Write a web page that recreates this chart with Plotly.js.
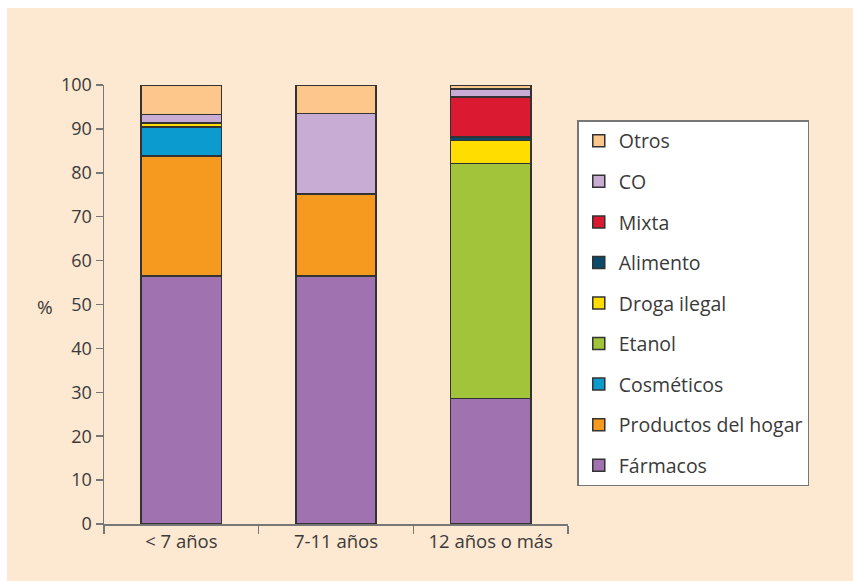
<!DOCTYPE html>
<html>
<head>
<meta charset="utf-8">
<script src="https://cdn.plot.ly/plotly-3.0.1.min.js"></script>
<style>
html,body{margin:0;padding:0;background:#ffffff;width:853px;height:581px;overflow:hidden;}
#chart{position:absolute;left:7px;top:8px;width:846px;height:573px;}
</style>
</head>
<body>
<div id="chart"></div>
<script>
var categories = ["< 7 años", "7-11 años", "12 años o más"];
var seriesNames = ["Fármacos", "Productos del hogar", "Cosméticos", "Etanol", "Droga ilegal", "Alimento", "Mixta", "CO", "Otros"];
var farmacos   = [56.5, 56.5, 28.6];
var hogar      = [27.3, 18.7, 0];
var cosmeticos = [6.6, 0, 0];
var etanol     = [0, 0, 53.5];
var drogaIlegal= [0.9, 0, 5.3];
var alimento   = [0, 0, 0.8];
var mixta      = [0, 0, 9.1];
var co         = [2.0, 18.3, 1.8];
var otros      = [6.7, 6.5, 0.9];
var seriesValues = [farmacos, hogar, cosmeticos, etanol, drogaIlegal, alimento, mixta, co, otros];
var colors = ["#a172b0", "#f5991f", "#0b9bcf", "#a1c43b", "#ffdd00", "#0b4a6b", "#d91a30", "#c8acd4", "#fdc68a"];
var yTicks = [0,10,20,30,40,50,60,70,80,90,100];

var bg = "#fde8d1";
var txt = "#3a3a3a";
var fontFam = "'Open Sans', Lato, sans-serif";

var traces = seriesNames.map(function(name, i){
  return {
    type: "bar",
    name: name,
    x: categories,
    y: seriesValues[i],
    legendgroup: "g" + i,
    legendrank: 1000 - i,
    marker: {color: colors[i], line: {color: "#333333", width: 1.5}},
    width: 0.52,
    hoverinfo: "name+y"
  };
});

var layout = {
  barmode: "stack",
  paper_bgcolor: bg,
  plot_bgcolor: bg,
  width: 846,
  height: 573,
  margin: {l: 97, r: 285, t: 77, b: 57, pad: 0},
  font: {family: fontFam, size: 18, color: txt},
  xaxis: {
    type: "category",
    showline: true, linecolor: "#777777", linewidth: 1.5,
    ticks: "outside", tickson: "boundaries", ticklen: 8, tickcolor: "#777777", tickwidth: 1.5,
    showgrid: false, zeroline: false,
    tickfont: {family: fontFam, size: 18.5, color: txt}
  },
  yaxis: {
    range: [0, 100],
    tickvals: yTicks,
    ticktext: yTicks.map(String),
    showline: true, linecolor: "#777777", linewidth: 1.5,
    ticks: "outside", ticklen: 7, tickcolor: "#777777", tickwidth: 1.5,
    showgrid: false, zeroline: false,
    tickfont: {family: fontFam, size: 18, color: txt}
  },
  legend: {
    x: 1.02, xanchor: "left",
    y: 0.92, yanchor: "top",
    traceorder: "grouped",
    tracegroupgap: 12.2,
    bgcolor: "#ffffff",
    bordercolor: "#777777",
    borderwidth: 1.5,
    font: {family: fontFam, size: 19.5, color: txt}
  },
  annotations: [{
    text: "%", xref: "paper", yref: "paper", x: -0.149, y: 0.494,
    showarrow: false, font: {family: fontFam, size: 19, color: txt}
  }],
  showlegend: true
};

Plotly.newPlot("chart", traces, layout, {displayModeBar: false, staticPlot: true});
</script>
</body>
</html>
